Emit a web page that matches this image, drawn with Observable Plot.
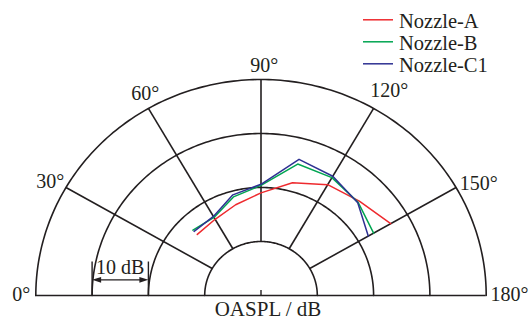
<!DOCTYPE html>
<html><head><meta charset="utf-8">
<script src="https://cdn.jsdelivr.net/npm/d3@7"></script>
<script src="https://cdn.jsdelivr.net/npm/@observablehq/plot@0.6"></script>
<style>
body{margin:0;background:#fff;}
#wrap{position:relative;width:531px;height:320px;font-family:"Liberation Serif","Times New Roman",serif;color:#231f20;}
#legend{position:absolute;left:363px;top:9.5px;}
.row{display:flex;align-items:flex-start;height:22px;}
.row span{font-size:20.5px;line-height:22px;white-space:nowrap;}
.row svg{margin-right:6px;}
</style></head><body>
<div id="wrap"><div id="chart"></div><div id="legend"></div></div>
<script>
// ---- data (angle in degrees, level in dB above the plot centre, 10 dB per ring) ----
const angles   = [45, 60, 75, 90, 105, 120, 135, 150];
const nozzleA  = [16.0, 16.3, 17.4, 19.0, 21.6, 23.7, 24.7, 26.6];
const nozzleB  = [17.1, 16.7, 18.9, 20.4, 25.2, 25.2, 24.4, 23.1];
const nozzleC1 = [16.8, 16.9, 19.3, 20.6, 26.1, 25.5, 24.3, 22.0];
const seriesNames  = ["Nozzle-A", "Nozzle-B", "Nozzle-C1"];
const seriesValues = [nozzleA, nozzleB, nozzleC1];
const seriesColors = ["#ee2a2e", "#00a551", "#2e3192"];
const ringValues   = [10, 20, 30, 40];
const spokeAngles  = [30, 60, 90, 120, 150];
const angleLabels  = [0, 30, 60, 90, 120, 150, 180];
const scaleBarLabel = "10 dB";
const axisTitle = "OASPL / dB";

// ---- helpers ----
const rad = a => a * Math.PI / 180;
const px = (r, a) => -r * Math.cos(rad(a));
const py = (r, a) =>  r * Math.sin(rad(a));
const rMin = ringValues[0], rMax = ringValues[ringValues.length - 1];

const W = 531, H = 320, cx = 260.5, cy = 295, ux = 5.63, uy = 5.4;
const INK = "#231f20", FONT = "Liberation Serif, Times New Roman, serif";

const arcs = ringValues.flatMap(r => d3.range(0, 180.01, 1).map(a => ({r, x: px(r, a), y: py(r, a)})));
const spokes = spokeAngles.map(a => ({x1: px(rMin, a), y1: py(rMin, a), x2: px(rMax, a), y2: py(rMax, a)}));
const table = seriesNames.flatMap((name, i) => angles.map((a, j) => ({name, a, v: seriesValues[i][j], x: px(seriesValues[i][j], a), y: py(seriesValues[i][j], a)})));

const labelStyle = {
  0:   {anchor: "end",    dx: -5.5, dy: 5.7},
  30:  {anchor: "end",    dx: -1.8, dy: 0},
  60:  {anchor: "middle", dx: -3.1, dy: -8.9},
  90:  {anchor: "middle", dx: 3.2,  dy: -7.3},
  120: {anchor: "middle", dx: 15.6, dy: -11},
  150: {anchor: "start",  dx: 3.8,  dy: 2.3},
  180: {anchor: "start",  dx: 4.3,  dy: 5.7}
};
const labelMarks = angleLabels.map(a => Plot.text([a], {
  x: d => px(rMax, d), y: d => py(rMax, d), text: d => d + "°",
  textAnchor: labelStyle[a].anchor, lineAnchor: "bottom",
  dx: labelStyle[a].dx, dy: labelStyle[a].dy,
  fontFamily: FONT, fontSize: 20, fill: INK
}));

const headSymbol = {draw(ctx) { ctx.moveTo(0, 0); ctx.lineTo(-9, -2.8); ctx.lineTo(-9, 2.8); ctx.closePath(); }};
const barX1 = -ringValues[2], barX2 = -ringValues[1], barY = 2.9, tickTop = 6.2;

const chart = Plot.plot({
  width: W, height: H, margin: 0,
  x: {domain: [-cx / ux, (W - cx) / ux], range: [0, W], axis: null},
  y: {domain: [-(H - cy) / uy, cy / uy], range: [H, 0], axis: null},
  marks: [
    Plot.line(arcs, {x: "x", y: "y", z: "r", stroke: INK, strokeWidth: 1.6}),
    Plot.link(spokes, {x1: "x1", y1: "y1", x2: "x2", y2: "y2", stroke: INK, strokeWidth: 1.6}),
    Plot.ruleY([0], {x1: -rMax, x2: rMax, stroke: INK, strokeWidth: 1.6}),
    Plot.ruleX([0], {y1: 0, y2: 0.93, stroke: INK, strokeWidth: 1.4}),
    Plot.ruleX([barX1, barX2], {y1: 0, y2: tickTop, stroke: INK, strokeWidth: 1.4}),
    Plot.ruleY([barY], {x1: barX1 + 1, x2: barX2 - 1, stroke: INK, strokeWidth: 1.3}),
    Plot.dot([{x: barX1, rot: 180}, {x: barX2, rot: 0}], {x: "x", y: barY, rotate: "rot", symbol: headSymbol, fill: INK, stroke: "none", r: 4}),
    Plot.text([scaleBarLabel], {x: (barX1 + barX2) / 2, y: 4.0, lineAnchor: "bottom", fontFamily: FONT, fontSize: 20, fill: INK}),
    ...seriesNames.map((n, i) => Plot.line(table.filter(d => d.name === n), {x: "x", y: "y", stroke: seriesColors[i], strokeWidth: 1.5})),
    ...labelMarks,
    Plot.text([axisTitle], {frameAnchor: "bottom", dx: 2, dy: -4.5, lineAnchor: "bottom", fontFamily: FONT, fontSize: 21, fill: INK})
  ]
});
document.getElementById("chart").appendChild(chart);

const legend = document.getElementById("legend");
seriesNames.forEach((n, i) => {
  const row = document.createElement("div");
  row.className = "row";
  row.innerHTML = `<svg width="30" height="22"><line x1="0" x2="30" y1="9.8" y2="9.8" stroke="${seriesColors[i]}" stroke-width="1.5"/></svg><span>${n}</span>`;
  legend.appendChild(row);
});
</script>
</body></html>
